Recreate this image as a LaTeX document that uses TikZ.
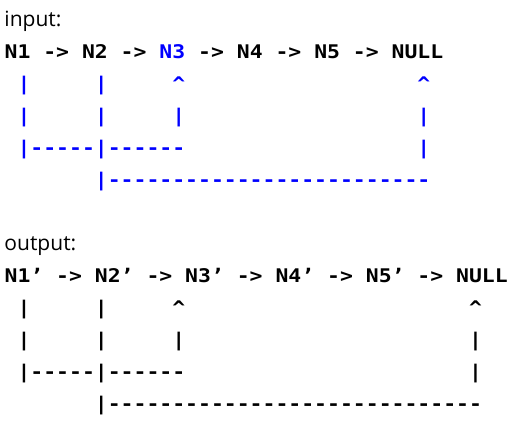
\documentclass[tikz,border=0pt]{standalone}
\usepackage{fontspec}
\setmainfont{Open Sans}
\setmonofont{DejaVu Sans Mono}[FakeStretch=1.14]
\usetikzlibrary{positioning}
\tikzset{
  heading/.style={anchor=base west, inner sep=0pt, font=\fontsize{21}{21}\selectfont},
  code/.style={anchor=base west, inner sep=0pt, font=\fontsize{18.8}{18.8}\selectfont\ttfamily\bfseries},
  link/.style={code, text=blue},
}

\begin{document}
\begin{tikzpicture}[x=1pt,y=-1pt]
  \def\cw{12.9}
  \def\xo{4.4}
  \def\rowh{32}
  \useasboundingbox (0,0) rectangle (510,424);

  % input
  \node[heading] (inlabel) at (4.3,26) {input:};
  \node[code] (inlist) at (\xo,58) {N1 -> N2 -> \textcolor{blue}{N3} -> N4 -> N5 -> NULL};

  \foreach \c/\s in {1/|,7/|,13/\textasciicircum,32/\textasciicircum}
    \node[link] (inup\c) at (\xo+\c*\cw,58+\rowh) {\s};
  \foreach \c in {1,7,13,32}
    \node[link] (inbar\c) at (\xo+\c*\cw,58+2*\rowh) {|};
  \node[link] (inrun1) at (\xo+1*\cw,58+3*\rowh) {|-----|------};
  \node[link] (inbar32b) at (\xo+32*\cw,58+3*\rowh) {|};
  \node[link] (inrun2) at (\xo+7*\cw,58+4*\rowh) {|-------------------------};

  % output
  \node[heading] (outlabel) at (4.3,250) {output:};
  \node[code] (outlist) at (\xo,282) {N1’ -> N2’ -> N3’ -> N4’ -> N5’ -> NULL};

  \foreach \c/\s in {1/|,7/|,13/\textasciicircum,36/\textasciicircum}
    \node[code] (outup\c) at (\xo+\c*\cw,282+\rowh) {\s};
  \foreach \c in {1,7,13,36}
    \node[code] (outbar\c) at (\xo+\c*\cw,282+2*\rowh) {|};
  \node[code] (outrun1) at (\xo+1*\cw,282+3*\rowh) {|-----|------};
  \node[code] (outbar36b) at (\xo+36*\cw,282+3*\rowh) {|};
  \node[code] (outrun2) at (\xo+7*\cw,282+4*\rowh) {|-----------------------------};
\end{tikzpicture}
\end{document}
